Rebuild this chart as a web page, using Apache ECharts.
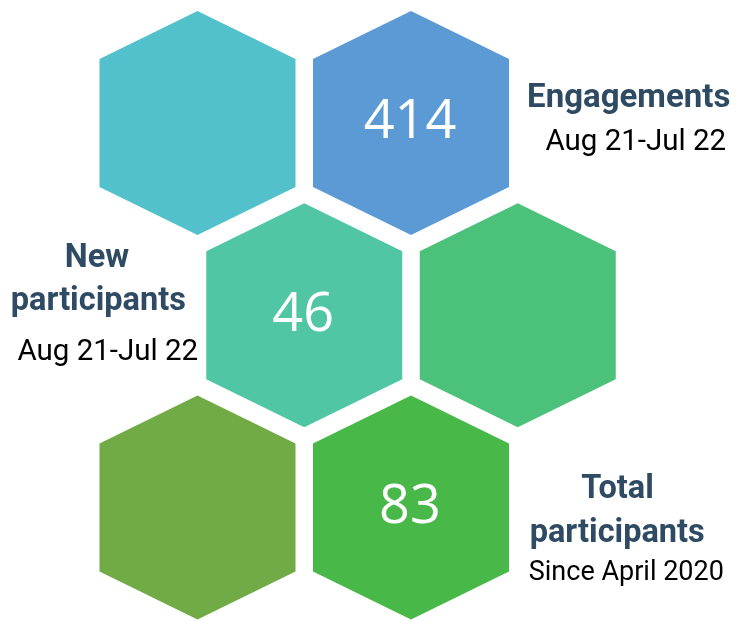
<!DOCTYPE html>
<html>
<head>
<meta charset="utf-8">
<script src="https://cdn.jsdelivr.net/npm/echarts@6/dist/echarts.min.js"></script>
<style>
html,body{margin:0;padding:0;background:#fff;}
#chart{width:742px;height:621px;}
</style>
</head>
<body>
<div id="chart"></div>
<script>
// Honeycomb cells: column (half-steps) and row index
const hexCols = [0, 2, 1, 3, 0, 2];
const hexRows = [0, 0, 1, 1, 2, 2];
const hexValues = [null, 414, 46, null, null, 83];
const hexColors = ['#53C1CC', '#5B9AD4', '#50C6A5', '#4CC17A', '#70AB46', '#48B848'];

const labelTitles = ['Engagements', 'New\nparticipants', 'Total\nparticipants'];
const labelPeriods = ['Aug 21-Jul 22', 'Aug 21-Jul 22', 'Since April 2020'];

const chart = echarts.init(document.getElementById('chart'), null, {renderer: 'canvas'});

const HW = 98, HT = 112, HS = 64;
const TITLE_COLOR = '#2E4B63';

function renderHex(params, api) {
  const c = api.coord([api.value(0), api.value(1)]);
  const cx = c[0], cy = c[1];
  const pts = [
    [cx, cy - HT], [cx + HW, cy - HS], [cx + HW, cy + HS],
    [cx, cy + HT], [cx - HW, cy + HS], [cx - HW, cy - HS]
  ];
  const v = api.value(2);
  const children = [{
    type: 'polygon',
    shape: {points: pts},
    style: {fill: hexColors[params.dataIndex]}
  }];
  if (v !== null && v !== undefined && !isNaN(v)) {
    children.push({
      type: 'text',
      x: cx - 1, y: cy,
      style: {
        text: String(v), fill: '#FFFFFF',
        font: '400 54px "Open Sans"',
        align: 'center', verticalAlign: 'middle'
      }
    });
  }
  return {type: 'group', children: children};
}

const data = hexCols.map((c, i) => [c, hexRows[i], hexValues[i] === null ? NaN : hexValues[i]]);

function txt(text, x, y, size, bold) {
  return {
    type: 'text', x: x, y: y, silent: true,
    style: {
      text: text,
      fill: bold ? TITLE_COLOR : '#000000',
      font: (bold ? '700 ' : '400 ') + size + 'px Roboto',
      align: 'center', verticalAlign: 'middle'
    }
  };
}

const t1 = labelTitles[0].split('\n'), t2 = labelTitles[1].split('\n'), t3 = labelTitles[2].split('\n');

chart.setOption({
  animation: false,
  grid: {left: 0, right: 0, top: 0, bottom: 0},
  xAxis: {type: 'value', min: -1.8501, max: 5.1007, show: false},
  yAxis: {type: 'value', min: -0.639, max: 2.5895, inverse: true, show: false},
  series: [{
    type: 'custom',
    renderItem: renderHex,
    data: data,
    encode: {x: 0, y: 1}
  }],
  graphic: [
    txt(t1[0], 628.7, 99, 33, true),
    txt(labelPeriods[0], 635.8, 142.4, 29.5, false),
    txt(t2[0], 97, 259, 32.5, true),
    txt(t2[1], 98.3, 302.2, 32.5, true),
    txt(labelPeriods[1], 107.8, 352.5, 29.5, false),
    txt(t3[0], 617.5, 490.3, 32.5, true),
    txt(t3[1], 617.2, 534, 32.5, true),
    txt(labelPeriods[2], 626.3, 573.7, 27, false)
  ]
});
</script>
</body>
</html>
